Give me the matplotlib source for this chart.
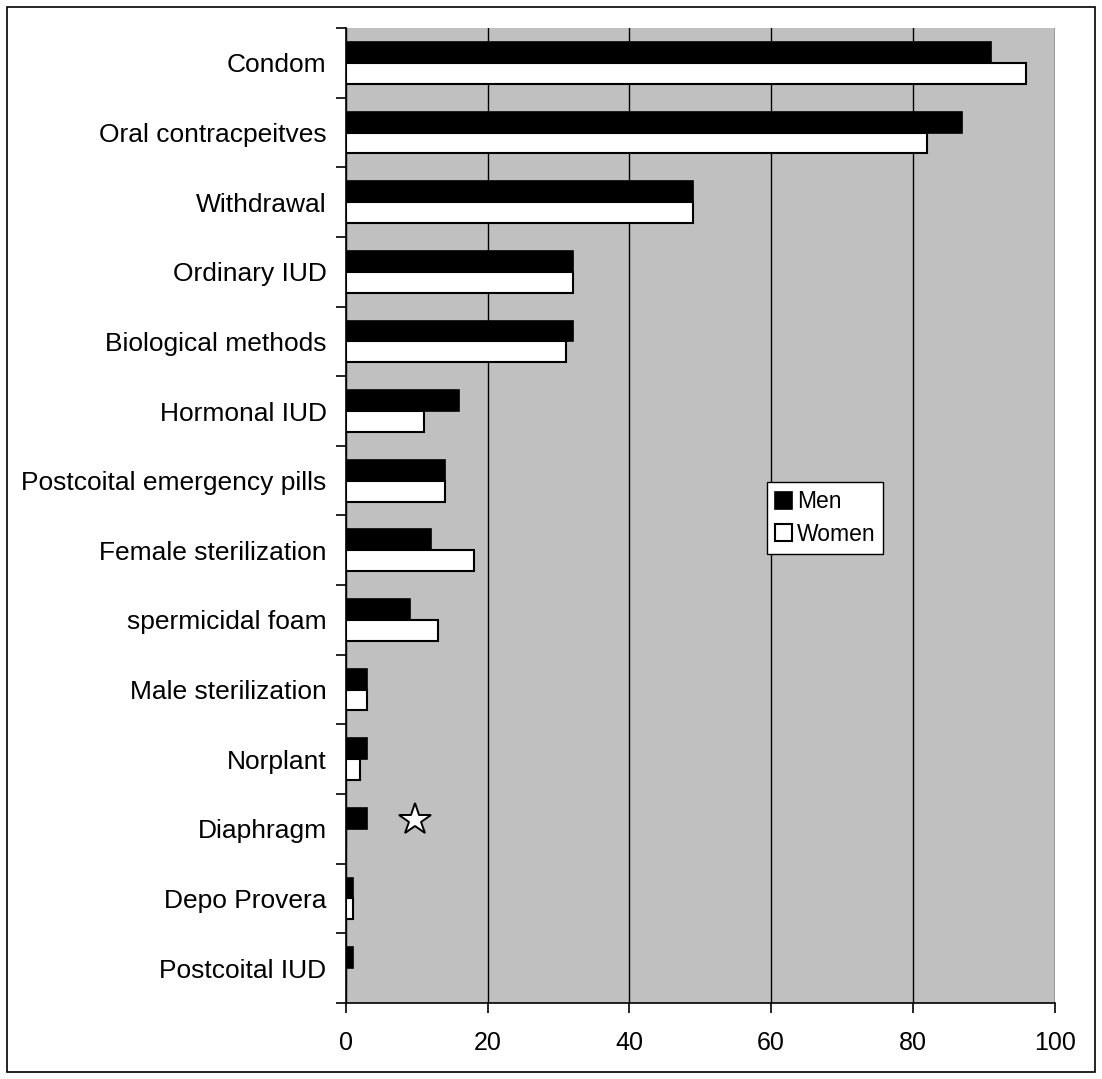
import matplotlib
matplotlib.use("Agg")
import matplotlib.pyplot as plt
import numpy as np
from matplotlib.patches import Rectangle

plt.rcParams["font.family"] = ["Liberation Sans", "DejaVu Sans"]

# Share (%) who know each contraceptive method, top to bottom as in the chart.
methods = ["Condom", "Oral contracpeitves", "Withdrawal", "Ordinary IUD",
           "Biological methods", "Hormonal IUD", "Postcoital emergency pills",
           "Female sterilization", "spermicidal foam", "Male sterilization",
           "Norplant", "Diaphragm", "Depo Provera", "Postcoital IUD"]
men = [91, 87, 49, 32, 32, 16, 14, 12, 9, 3, 3, 3, 1, 1]
women = [96, 82, 49, 32, 31, 11, 14, 18, 13, 3, 2, 0, 1, 0]
x_ticks = [0, 20, 40, 60, 80, 100]

# the star drawn next to the Diaphragm bar
star_x, star_y = 9.7, 10.87

fig = plt.figure(figsize=(11.02, 10.79), dpi=100)
fig.patches.append(Rectangle((0.0065, 0.0065), 0.987, 0.987, transform=fig.transFigure,
                             fill=False, edgecolor="black", linewidth=1.2))
ax = fig.add_axes([0.314, 0.0705, 0.643, 0.9035])
ax.set_facecolor("#c0c0c0")

y = np.arange(len(methods))
h = 0.3
ax.barh(y - h / 2, men, height=h, color="black", edgecolor="black", linewidth=1.2,
        label="Men", zorder=3)
ax.barh(y + h / 2, women, height=h, color="white", edgecolor="black", linewidth=1.5,
        label="Women", zorder=3)
ax.plot(star_x, star_y, marker="*", markersize=24, markerfacecolor="white",
        markeredgecolor="black", markeredgewidth=1.4, zorder=4)

ax.set_xlim(0, 100)
ax.set_ylim(len(methods) - 0.5, -0.5)
ax.set_xticks(x_ticks)
ax.xaxis.grid(True, color="black", linewidth=1.0, zorder=1)
ax.set_axisbelow(True)

# category labels centred in each band, ticks on the band boundaries
ax.set_yticks(y)
ax.set_yticklabels(methods, fontsize=19)
ax.set_yticks(np.arange(len(methods) + 1) - 0.5, minor=True)
ax.tick_params(axis="y", which="major", length=0, pad=14)
ax.tick_params(axis="y", which="minor", length=7, width=1.2, direction="out")
ax.tick_params(axis="x", length=7, width=1.2, direction="out", pad=13, labelsize=18)

for side in ("top", "right"):
    ax.spines[side].set_visible(False)
for side in ("left", "bottom"):
    ax.spines[side].set_linewidth(1.2)

leg = ax.legend(loc="upper left", bbox_to_anchor=(0.594, 0.534), fontsize=16.5,
                frameon=True, fancybox=False, edgecolor="black", framealpha=1,
                handlelength=0.75, handleheight=0.75, handletextpad=0.2,
                borderpad=0.35, labelspacing=0.4, borderaxespad=0)
leg.get_frame().set_linewidth(1.0)

fig.savefig("out.png", dpi=100)
